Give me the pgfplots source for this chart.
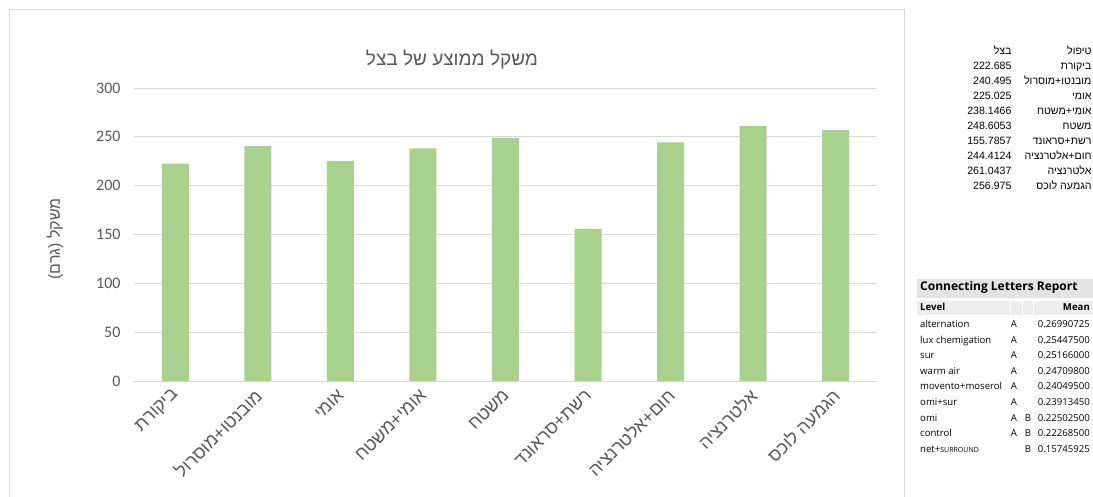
\documentclass[border=0pt]{standalone}
\usepackage{pgfplots}
\pgfplotsset{compat=1.18}
\usepackage{fontspec}
\setmainfont{Carlito}
\newfontfamily\hebfont[Script=Hebrew]{Liberation Sans}
\newfontfamily\arialfont{Liberation Sans}
\newfontfamily\jmpfont{Open Sans}
\TeXXeTstate=1
\newcommand\heb[1]{{\hebfont\beginR #1\endR}}
\definecolor{bargreen}{HTML}{A9D18E}
\definecolor{txtgray}{HTML}{595959}
\definecolor{gridgray}{HTML}{D9D9D9}
\definecolor{hdrgray}{HTML}{E3E3E3}
\definecolor{lvlgray}{HTML}{EDEDED}
\begin{document}
\begin{tikzpicture}
\path[use as bounding box] (0,0) rectangle (1093pt,-497pt);
\fill[white] (0,0) rectangle (1093pt,-497pt);
\draw[gridgray, line width=0.8pt] (9.5pt,-520pt) -- (9.5pt,-9.5pt) -- (904.5pt,-9.5pt) -- (904.5pt,-520pt);
\begin{axis}[
  at={(134pt,-381pt)}, anchor=south west, scale only axis,
  width=743pt, height=293pt,
  xmin=-0.5, xmax=8.5, ymin=0, ymax=300,
  ytick={0,50,...,300},
  xtick={0,...,8},
  xticklabels={{\hebfont\beginR ביקורת\endR},{\hebfont\beginR מובנטו+מוסרול\endR},{\hebfont\beginR אומי\endR},{\hebfont\beginR אומי+משטח\endR},{\hebfont\beginR משטח\endR},{\hebfont\beginR רשת+סראונד\endR},{\hebfont\beginR חום+אלטרנציה\endR},{\hebfont\beginR אלטרנציה\endR},{\hebfont\beginR הגמעה לוכס\endR}},
  ybar, bar width=27pt,
  axis lines=left, axis line style={-},
  y axis line style={draw=none},
  x axis line style={draw=gridgray, line width=0.8pt},
  ymajorgrids, grid style={gridgray, line width=0.8pt},
  major tick length=0pt,
  tick label style={text=txtgray},
  yticklabel style={font=\fontsize{16}{19}\selectfont, xshift=-10pt},
  xticklabel style={font=\fontsize{18}{21}\selectfont, xshift=3pt, yshift=-9pt, rotate=45, anchor=east},
  /pgf/number format/assume math mode=true,
  clip=false,
]
\addplot[fill=bargreen, draw=none] coordinates {(0,222.685) (1,240.495) (2,225.025) (3,238.1466) (4,248.6053) (5,155.7857) (6,244.4124) (7,261.0437) (8,256.975)};
\end{axis}
% title and y label
\node[text=txtgray, font=\fontsize{19}{22}\selectfont] at (452pt,-60pt) {\hebfont\beginR משקל ממוצע של בצל\endR};
\node[text=txtgray, font=\fontsize{16}{19}\selectfont, rotate=90] at (55pt,-239pt) {\hebfont\beginR משקל (גרם)\endR};
% right table
\begin{scope}[every node/.style={inner sep=0pt, anchor=mid east, font=\arialfont\fontsize{10.6}{12}\selectfont}]
\node at (1091.7pt,-51.7pt) {\heb{טיפול}};
\node at (1011.7pt,-51.7pt) {\heb{בצל}};
\node at (1091.7pt,-67.3pt) {\heb{ביקורת}};
\node at (1011.7pt,-67.3pt) {222.685};
\node at (1091.7pt,-82.3pt) {\heb{מובנטו+מוסרול}};
\node at (1011.7pt,-82.3pt) {240.495};
\node at (1091.7pt,-97.3pt) {\heb{אומי}};
\node at (1011.7pt,-97.3pt) {225.025};
\node at (1091.7pt,-112.3pt) {\heb{אומי+משטח}};
\node at (1011.7pt,-112.3pt) {238.1466};
\node at (1091.7pt,-127.3pt) {\heb{משטח}};
\node at (1011.7pt,-127.3pt) {248.6053};
\node at (1091.7pt,-142.3pt) {\heb{רשת+סראונד}};
\node at (1011.7pt,-142.3pt) {155.7857};
\node at (1091.7pt,-157.3pt) {\heb{חום+אלטרנציה}};
\node at (1011.7pt,-157.3pt) {244.4124};
\node at (1091.7pt,-172.3pt) {\heb{אלטרנציה}};
\node at (1011.7pt,-172.3pt) {261.0437};
\node at (1091.7pt,-187.3pt) {\hebfont\beginR הגמעה לוכס\endR};
\node at (1011.7pt,-187.3pt) {256.975};
\end{scope}
% connecting letters report
\fill[hdrgray] (917pt,-279pt) rectangle (1093pt,-298pt);
\fill[lvlgray] (917pt,-301pt) rectangle (1093pt,-315pt);
\draw[white, line width=1pt] (1010pt,-301pt) -- (1010pt,-315pt) (1022pt,-301pt) -- (1022pt,-315pt) (1033pt,-301pt) -- (1033pt,-315pt);
\node[inner sep=0pt, anchor=mid west, font=\jmpfont\bfseries\fontsize{12}{14}\selectfont] at (920pt,-288.5pt) {Connecting Letters Report};
\begin{scope}[every node/.style={inner sep=0pt, font=\jmpfont\fontsize{9.6}{11}\selectfont}]
\node[anchor=mid west, font=\jmpfont\bfseries\fontsize{9.6}{11}\selectfont] at (920pt,-308pt) {Level};
\node[anchor=mid east, font=\jmpfont\bfseries\fontsize{9.6}{11}\selectfont] at (1090pt,-308pt) {Mean};
\foreach \n/\a/\b/\m [count=\i from 0] in {alternation/A//0.26990725, lux chemigation/A//0.25447500, sur/A//0.25166000, warm air/A//0.24709800, movento+moserol/A//0.24049500, omi+sur/A//0.23913450, omi/A/B/0.22502500, control/A/B/0.22268500, {net+{\fontsize{7}{8}\selectfont SURROUND}}//B/0.15745925} {
  \pgfmathsetmacro\yy{-325-15.65*\i}
  \node[anchor=mid west] at (920pt,\yy pt) {\n};
  \node[anchor=mid] at (1014pt,\yy pt) {\a};
  \node[anchor=mid] at (1028pt,\yy pt) {\b};
  \node[anchor=mid east] at (1090pt,\yy pt) {\m};
}
\end{scope}
\end{tikzpicture}
\end{document}
